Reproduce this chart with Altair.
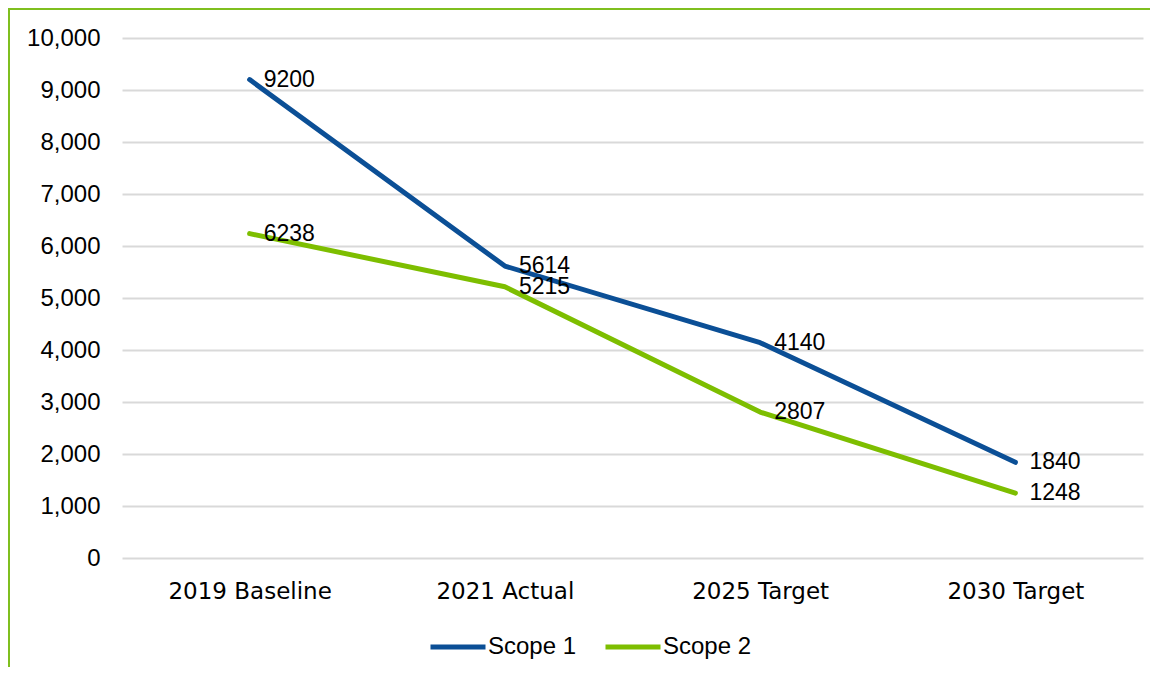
import altair as alt
import pandas as pd

categories = ["2019 Baseline", "2021 Actual", "2025 Target", "2030 Target"]
scope1 = [9200, 5614, 4140, 1840]
scope2 = [6238, 5215, 2807, 1248]
series_names = ["Scope 1", "Scope 2"]
colors = ["#0B4F96", "#7DBE00"]
y_ticks = [0, 1000, 2000, 3000, 4000, 5000, 6000, 7000, 8000, 9000, 10000]

rows = []
for s, vals in zip(series_names, [scope1, scope2]):
    for c, v in zip(categories, vals):
        rows.append({"category": c, "series": s, "value": v})
df = pd.DataFrame(rows)

FONT = "Liberation Sans"
XFONT = "DejaVu Sans"
BORDER = "#7FBF1F"

x = alt.X("category:N", sort=categories,
          scale=alt.Scale(type="point", padding=0.5),
          axis=alt.Axis(title=None, labelAngle=0, labelFontSize=23, labelPadding=22,
                        ticks=False, domain=False, grid=False, labelColor="#000",
                        labelFont=XFONT))
y = alt.Y("value:Q", scale=alt.Scale(domain=[0, 10000], nice=False),
          axis=alt.Axis(title=None, values=y_ticks, format=",d", labelFontSize=24,
                        labelPadding=22, ticks=False, domain=False,
                        gridColor="#D9D9D9", gridWidth=2, labelColor="#000",
                        labelFont=FONT))
color = alt.Color("series:N",
                  scale=alt.Scale(domain=series_names, range=colors),
                  legend=alt.Legend(title=None, orient="none", legendX=306, legendY=579,
                                    direction="horizontal", symbolType="stroke",
                                    symbolSize=3025, symbolStrokeWidth=5,
                                    labelFontSize=24, labelColor="#000", labelFont=FONT,
                                    columnPadding=18, labelOffset=0))

lines = alt.Chart(df).mark_line(strokeWidth=5, strokeCap="round", strokeJoin="round").encode(
    x=x, y=y, color=color)
labels = alt.Chart(df).mark_text(align="left", baseline="middle", dx=14, fontSize=23,
                                 font=FONT, color="#000").encode(
    x=x, y=y, text=alt.Text("value:Q", format="d"))

frame_df = pd.DataFrame({"k": [0]})
left_border = alt.Chart(frame_df).mark_rule(color=BORDER, strokeWidth=2).encode(
    x=alt.value(-113), y=alt.value(-29), y2=alt.value(640))
top_border = alt.Chart(frame_df).mark_rule(color=BORDER, strokeWidth=2).encode(
    x=alt.value(-114), x2=alt.value(1040), y=alt.value(-29))

chart = alt.layer(left_border, top_border, lines, labels).properties(
    width=1021, height=520,
    padding={"left": 114, "top": 30, "right": 7, "bottom": 109},
    autosize=alt.AutoSizeParams(type="none"),
).configure_view(strokeWidth=0)

chart.save("out.html", embed_options={"renderer": "svg", "actions": False})
